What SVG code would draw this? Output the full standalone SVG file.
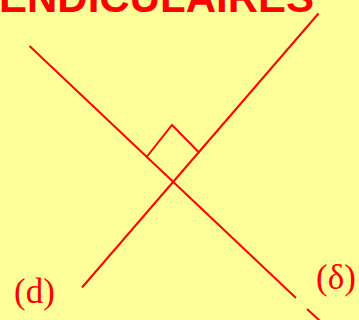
<svg xmlns="http://www.w3.org/2000/svg" width="359" height="320" viewBox="0 0 359 320">
<style>
.ln{stroke:#FF0000;stroke-width:2;fill:none}
.lbl{font-family:"Liberation Serif","Times New Roman",serif;fill:#FF0000}
.title{font-family:"Liberation Sans",Arial,sans-serif;font-weight:bold;fill:#FF0000}
</style>
<rect x="0" y="0" width="359" height="320" fill="#FFFF99"/>
<text class="title" x="314" y="12" font-size="42" text-anchor="end">ENDICULAIRES</text>
<g id="connectors">
<line id="line-d" class="ln" x1="318.5" y1="13.5" x2="82" y2="287.5"/>
<line id="line-delta-a" class="ln" x1="29.5" y1="46" x2="296" y2="298"/>
<line id="line-delta-b" class="ln" x1="307" y1="309" x2="320" y2="321"/>
<polyline id="right-angle" class="ln" points="147,156.5 172,125 199.5,153"/>
</g>
<g id="label-d"><text class="lbl" x="14" y="303" font-size="35">(d)</text></g>
<g id="label-delta"><text class="lbl" x="316" y="289" font-size="35">(δ)</text></g>
</svg>
